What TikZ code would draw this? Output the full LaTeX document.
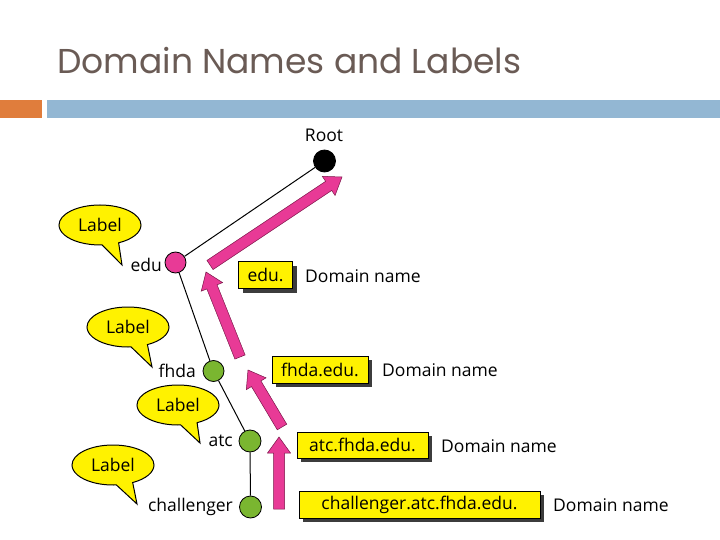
\documentclass[tikz,border=0pt]{standalone}
\usepackage{fontspec}
\setmainfont{Open Sans}
\newfontfamily\titlefont{Poppins}
\usetikzlibrary{calc,shapes.callouts,shadows}
\definecolor{titlegray}{RGB}{106,91,85}
\definecolor{barorange}{RGB}{224,125,60}
\definecolor{barblue}{RGB}{147,183,211}
\definecolor{pinkfill}{RGB}{232,58,150}
\definecolor{pinkline}{RGB}{120,20,70}
\definecolor{greenfill}{RGB}{122,182,48}
\definecolor{shadowgray}{RGB}{60,60,60}
\newcommand\pinkarrowdraw[2]{%
  \coordinate (hh) at ($(#2)!16pt!(#1)$);
  \draw[pinkarrow] ($(#1)!5.5pt!90:(#2)$) -- ($(hh)!5.5pt!90:(#2)$) -- ($(hh)!11.5pt!90:(#2)$) -- (#2)
    -- ($(hh)!11.5pt!-90:(#2)$) -- ($(hh)!5.5pt!-90:(#2)$) -- ($(#1)!5.5pt!-90:(#2)$) -- cycle;}
\begin{document}
\begin{tikzpicture}[x=1pt,y=-1pt,
  txt/.style={font=\fontsize{17.5}{20}\selectfont, inner sep=0pt},
  dot/.style={circle, draw=black, line width=0.8pt, minimum size=22pt, inner sep=0pt},
  treeline/.style={line width=1pt, draw=black},
  pinkarrow/.style={fill=pinkfill, draw=pinkline, line width=0.5pt, line join=miter},
  ybox/.style={rectangle, fill=yellow, draw=black, line width=0.8pt, minimum height=27pt, inner sep=0pt,
    font=\fontsize{17.5}{20}\selectfont,
    drop shadow={shadow xshift=4pt, shadow yshift=-4pt, fill=shadowgray, opacity=1}},
  bubble/.style={ellipse callout, fill=yellow, draw=black, line width=1pt, minimum width=82pt,
    minimum height=40pt, inner sep=0pt, callout pointer arc=24, font=\fontsize{17.5}{20}\selectfont}]
\useasboundingbox (0,0) rectangle (720,540);
\fill[white] (0,0) rectangle (720,540);
% title and bars
\node[anchor=base west, inner sep=0pt, text=titlegray, font=\titlefont\fontsize{34.5}{38}\selectfont] (title) at (57,74) {Domain Names and Labels};
\fill[barorange] (0,100) rectangle (42,118);
\fill[barblue] (47,100) rectangle (720,118);
% tree nodes
\node[dot, fill=black] (root) at (324.5,161) {};
\node[dot, fill=pinkfill, minimum size=21pt] (edu) at (175.5,262.5) {};
\node[dot, fill=greenfill, minimum size=21pt] (fhda) at (213.5,371) {};
\node[dot, fill=greenfill] (atc) at (250,441) {};
\node[dot, fill=greenfill] (chal) at (250.5,507) {};
\draw[treeline] (root) -- (edu);
\draw[treeline] (edu) -- (fhda);
\draw[treeline] (fhda) -- (atc);
\draw[treeline] (atc) -- (chal);
% node texts
\node[txt] (roott) at (324,135) {Root};
\node[txt, anchor=east] (edut) at (162,265) {edu};
\node[txt, anchor=east] (fhdat) at (196,371) {fhda};
\node[txt, anchor=east] (atct) at (233,441) {atc};
\node[txt, anchor=east] (chalt) at (233,507) {challenger};
% callouts
\node[bubble, callout absolute pointer={(122,265)}] (lab1) at (100,225) {Label};
\node[bubble, callout absolute pointer={(152,367)}] (lab2) at (128,327) {Label};
\node[bubble, callout absolute pointer={(200,443)}] (lab3) at (178,405) {Label};
\node[bubble, callout absolute pointer={(137,504)}] (lab4) at (113,465) {Label};
% arrows
\coordinate (a1s) at (210,265); \coordinate (a1e) at (342,177);
\coordinate (a2s) at (240,357); \coordinate (a2e) at (206,272);
\coordinate (a3s) at (282,427); \coordinate (a3e) at (248,370);
\coordinate (a4s) at (279,509); \coordinate (a4e) at (279,437);
\pinkarrowdraw{a1s}{a1e}
\pinkarrowdraw{a2s}{a2e}
\pinkarrowdraw{a3s}{a3e}
\pinkarrowdraw{a4s}{a4e}
% domain name boxes
\node[ybox, minimum width=54pt] (b1) at (265.5,275) {edu.};
\node[ybox, minimum width=96pt] (b2) at (320,369.5) {fhda.edu.};
\node[ybox, minimum width=131pt, minimum height=26pt] (b3) at (362.5,445) {atc.fhda.edu.};
\node[ybox, minimum width=241pt] (b4) at (419.5,504.5) {challenger.atc.fhda.edu.};
\node[txt, anchor=west] (d1) at (305,276) {Domain name};
\node[txt, anchor=west] (d2) at (382,370) {Domain name};
\node[txt, anchor=west] (d3) at (441,446) {Domain name};
\node[txt, anchor=west] (d4) at (553,505) {Domain name};
\end{tikzpicture}
\end{document}
